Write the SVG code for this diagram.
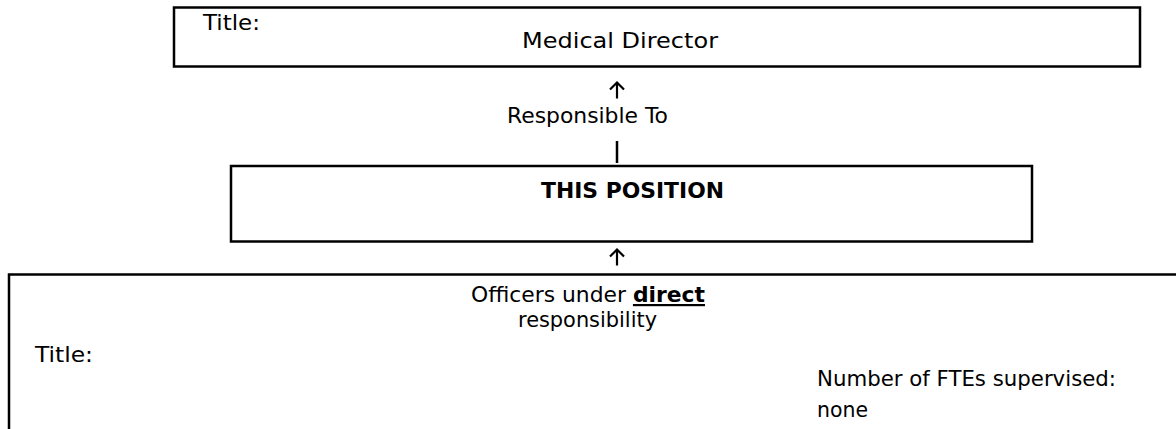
<svg xmlns="http://www.w3.org/2000/svg" width="1176" height="429" viewBox="0 0 1176 429">
<style>
.box{fill:#fff;stroke:#000;stroke-width:2.5}
.t{font-family:"DejaVu Sans",sans-serif;font-size:22px;fill:#000}
.c{text-anchor:middle}
.b{font-weight:bold}
.arr{fill:none;stroke:#000;stroke-width:2.2}
</style>
<rect width="1176" height="429" fill="#fff"/>
<g id="medical-director">
<rect class="box" x="174" y="7.5" width="966" height="59"/>
<text class="t" x="203" y="30" textLength="57" lengthAdjust="spacingAndGlyphs">Title:</text>
<text class="t c" x="620" y="48" textLength="196" lengthAdjust="spacingAndGlyphs">Medical Director</text>
</g>
<g id="this-position">
<rect class="box" x="231" y="166" width="801" height="75.5"/>
<text class="t c b" x="632.5" y="198" textLength="183" lengthAdjust="spacingAndGlyphs">THIS POSITION</text>
</g>
<g id="officers">
<rect class="box" x="9" y="274.5" width="1180" height="170"/>
<text class="t c" x="588" y="302" textLength="234" lengthAdjust="spacingAndGlyphs">Officers under <tspan class="b" text-decoration="underline">direct</tspan></text>
<text class="t c" x="587.5" y="327" textLength="139" lengthAdjust="spacingAndGlyphs">responsibility</text>
<text class="t" x="35" y="362" textLength="58" lengthAdjust="spacingAndGlyphs">Title:</text>
<text class="t" x="817" y="386" textLength="299" lengthAdjust="spacingAndGlyphs">Number of FTEs supervised:</text>
<text class="t" x="817" y="417" textLength="51" lengthAdjust="spacingAndGlyphs">none</text>
</g>
<g id="connectors">
<path class="arr" d="M617 98.5V82.5M610 89.5L617 82.5L624 89.5"/>
<text class="t c" x="587.5" y="123" textLength="161" lengthAdjust="spacingAndGlyphs">Responsible To</text>
<line x1="617" y1="141" x2="617" y2="163" stroke="#000" stroke-width="2.5"/>
<path class="arr" d="M617 265.5V249.5M610 256.5L617 249.5L624 256.5"/>
</g>
</svg>
